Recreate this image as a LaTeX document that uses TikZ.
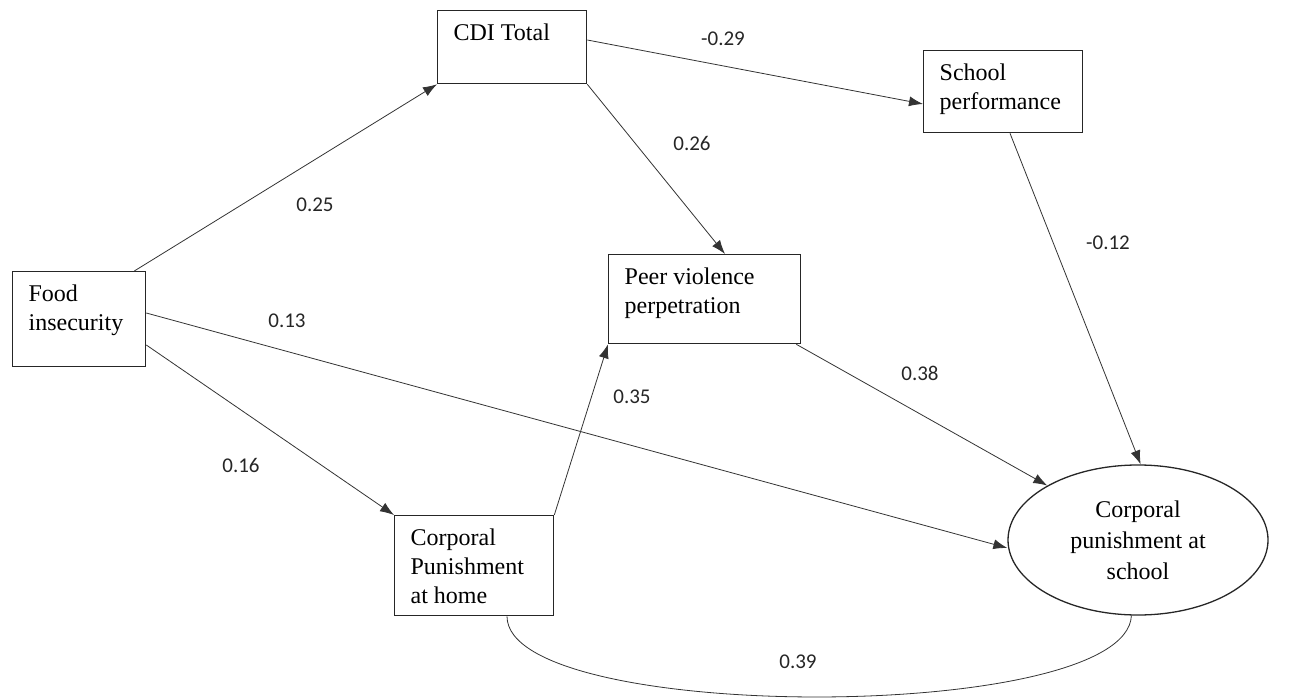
\documentclass[tikz,border=0pt]{standalone}
\usepackage{fontspec}
\setmainfont{Liberation Serif}
\newfontfamily\lblfont{Carlito}
\usetikzlibrary{shapes.geometric,arrows.meta,calc}
\tikzset{
  box/.style={draw=black!85, line width=1.3pt, inner sep=0pt, anchor=north west, font=\fontsize{24}{29}\selectfont},
  conn/.style={draw=black!80, line width=0.8pt, -{Latex[length=14pt,width=10pt]}},
  coef/.style={font=\lblfont\fontsize{21}{24}\selectfont, text=black!85, inner sep=0pt},
}
\newcommand{\bx}[3]{\hspace*{16pt}\parbox[c][#2pt][t]{\dimexpr#1pt-16pt\relax}{\vspace*{13pt}\raggedright #3}}
\begin{document}
\begin{tikzpicture}[x=1pt,y=-1pt]
\useasboundingbox (0,0) rectangle (1290,700);
\node[box] (cdi) at (437,10) {\bx{149}{73}{CDI Total}};
\node[box] (school) at (923,50) {\bx{159}{82}{School\\performance}};
\node[box] (food) at (12,271) {\bx{133}{95}{Food\\insecurity}};
\node[box] (peer) at (608,254) {\bx{192}{89}{Peer violence\\perpetration}};
\node[box] (home) at (394,515) {\bx{159}{100}{Corporal\\Punishment\\at home}};
\node[draw=black!85, line width=1.3pt, ellipse, minimum width=260pt, minimum height=150pt, inner sep=0pt, align=center, font=\fontsize{24}{31}\selectfont] (ell) at (1138,540) {Corporal\\punishment at\\school};

\draw[conn] ($(food.north east)+(-12,0)$) -- (cdi.south west);
\draw[conn] ($(cdi.north east)+(0,30)$) -- ($(school.north west)+(0,54)$);
\draw[conn] (cdi.south east) -- ($(peer.north west)+(117,0)$);
\draw[conn] ($(school.south west)+(87,0)$) -- (ell.88);
\draw[conn] ($(food.north east)+(0,42)$) -- ($(ell.west)+(0,8)$);
\draw[conn] ($(food.north east)+(0,74)$) -- (home.north west);
\draw[conn] (home.north east) -- (peer.south west);
\draw[conn] ($(peer.south east)+(-5,0)$) -- (ell.149);
\draw[draw=black!80, line width=0.8pt] ($(home.south west)+(113,0)$) .. controls (507,724) and (1127,724) .. (ell.265);

\node[coef] (l1) at (723,39) {-0.29};
\node[coef] (l2) at (692,143) {0.26};
\node[coef] (l3) at (315,205) {0.25};
\node[coef] (l4) at (1108,243) {-0.12};
\node[coef] (l5) at (287,321) {0.13};
\node[coef] (l6) at (632,397) {0.35};
\node[coef] (l7) at (920,373) {0.38};
\node[coef] (l8) at (241,465) {0.16};
\node[coef] (l9) at (798,662) {0.39};
\end{tikzpicture}
\end{document}
